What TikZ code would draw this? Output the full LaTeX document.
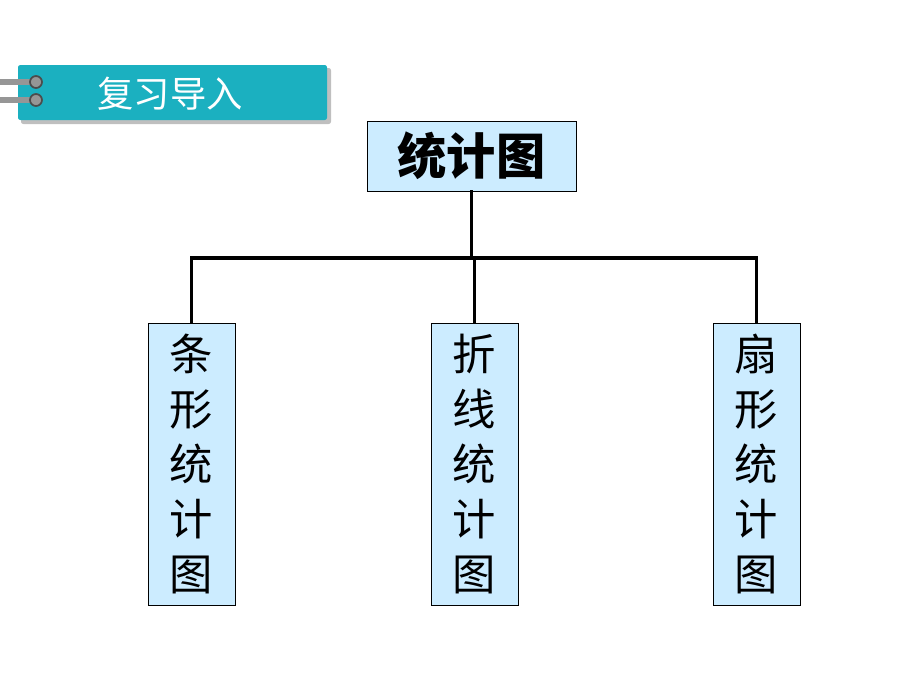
\documentclass[tikz,border=0pt]{standalone}
\usepackage{fontspec}
\setmainfont{Noto Sans CJK SC}
\usetikzlibrary{positioning}
\definecolor{boxblue}{RGB}{204,236,255}
\definecolor{tabteal}{RGB}{27,176,192}
\definecolor{ringgray}{RGB}{150,150,150}
\tikzset{
  kindbox/.style={draw=black,line width=0.8pt,fill=boxblue,minimum width=2.61cm,
    minimum height=8.46cm,align=center,inner sep=0pt,font=\fontsize{37}{47}\selectfont},
  link/.style={line width=2.6pt,line cap=rect}
}

\begin{document}
\begin{tikzpicture}[x=0.03cm,y=-0.03cm]
  \useasboundingbox (0,0) rectangle (920,690);
  % title tab
  \fill[black!25,rounded corners=2pt] (21,68) rectangle (331,124);
  \fill[tabteal,rounded corners=2pt] (18,65) rectangle (327,120);
  \node[text=white,font=\fontsize{31}{31}\selectfont] (tab) at (170,94) {复习导入};
  % rings
  \fill[ringgray] (0,79) rectangle (35,85);
  \fill[ringgray] (0,97) rectangle (35,103);
  \filldraw[fill=ringgray,draw=black!70,line width=1.5pt] (36,82) circle (6);
  \filldraw[fill=ringgray,draw=black!70,line width=1.5pt] (36,100) circle (6);
  % top box
  \node[draw=black,line width=0.8pt,fill=boxblue,minimum width=6.27cm,minimum height=2.1cm,
    font=\fontsize{42}{42}\selectfont\bfseries] (chart) at (471.5,156) {统计图};
  % kinds
  \node[kindbox] (bar) at (191.5,464) {条\\形\\统\\计\\图};
  \node[kindbox] (line) at (474.5,464) {折\\线\\统\\计\\图};
  \node[kindbox] (pie) at (756.5,464) {扇\\形\\统\\计\\图};
  % connectors
  \coordinate (split) at (chart.south |- 0,258);
  \draw[link] (chart.south) -- (split);
  \draw[link] (bar.north) -- (bar.north |- split) -- (pie.north |- split) -- (pie.north);
  \draw[link] (line.north) -- (line.north |- split);
\end{tikzpicture}
\end{document}
